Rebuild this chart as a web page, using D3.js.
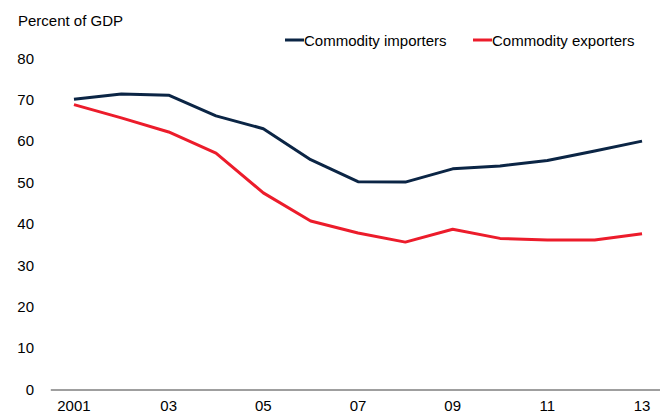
<!DOCTYPE html>
<html>
<head>
<meta charset="utf-8">
<script src="https://cdn.jsdelivr.net/npm/d3@7"></script>
<style>
  html, body { margin: 0; padding: 0; background: #fff; }
  svg { display: block; font-family: "Liberation Sans", Arial, sans-serif; }
</style>
</head>
<body>
<div id="chart"></div>
<script>
const years = [2001, 2002, 2003, 2004, 2005, 2006, 2007, 2008, 2009, 2010, 2011, 2012, 2013];
const tickLabels = ["2001", "03", "05", "07", "09", "11", "13"];
const importers = [70.1, 71.4, 71.1, 66.1, 63.0, 55.5, 50.2, 50.1, 53.3, 54.0, 55.3, 57.6, 60.0];
const exporters = [68.8, 65.6, 62.2, 57.1, 47.5, 40.7, 37.8, 35.6, 38.7, 36.5, 36.1, 36.1, 37.6];
const yTicks = [0, 10, 20, 30, 40, 50, 60, 70, 80];
const seriesNames = ["Commodity importers", "Commodity exporters"];
const seriesColors = ["#0b2545", "#ec1c2b"];

const W = 660, H = 415;
const FS = 15;
const svg = d3.select("#chart").append("svg").attr("width", W).attr("height", H);

const x = d3.scaleBand().domain(years).range([50.3, 665.7]);
const xc = d => x(d) + x.bandwidth() / 2;
const y = d3.scaleLinear().domain([0, 80]).range([389.5, 58.3]);

// y tick labels
svg.append("g").attr("transform", "translate(34,0)")
  .call(d3.axisLeft(y).tickValues(yTicks).tickSize(0).tickPadding(0))
  .call(g => g.select(".domain").remove())
  .call(g => g.selectAll("text").attr("font-size", FS).attr("fill", "#000")
    .attr("font-family", "'Liberation Sans', Arial, sans-serif"));

// x axis
const tickYears = years.filter((d, i) => i % 2 === 0);
svg.append("g").attr("transform", `translate(0,${y(0)})`)
  .call(d3.axisBottom(x).tickValues(tickYears).tickSize(0).tickPadding(11)
    .tickFormat((d, i) => tickLabels[i]))
  .call(g => g.select(".domain").attr("stroke", "#7f7f7f").attr("stroke-width", 1.6))
  .call(g => g.selectAll("text").attr("font-size", FS).attr("fill", "#000")
    .attr("font-family", "'Liberation Sans', Arial, sans-serif"));

// title
svg.append("text").attr("x", 18).attr("y", 26).attr("font-size", FS).attr("fill", "#000")
  .text("Percent of GDP");

// lines
const line = d3.line().x((d, i) => xc(years[i])).y(d => y(d));
[importers, exporters].forEach((s, k) => {
  svg.append("path").datum(s).attr("fill", "none")
    .attr("stroke", seriesColors[k]).attr("stroke-width", 3)
    .attr("stroke-linejoin", "round")
    .attr("d", line);
});

// legend
const legendX = [285, 473];
seriesNames.forEach((name, k) => {
  const g = svg.append("g").attr("transform", `translate(${legendX[k]},40)`);
  g.append("line").attr("x1", 0).attr("x2", 19).attr("y1", 0).attr("y2", 0)
    .attr("stroke", seriesColors[k]).attr("stroke-width", 3);
  g.append("text").attr("x", 19).attr("y", 5.5).attr("font-size", FS).attr("fill", "#000")
    .text(name);
});
</script>
</body>
</html>
